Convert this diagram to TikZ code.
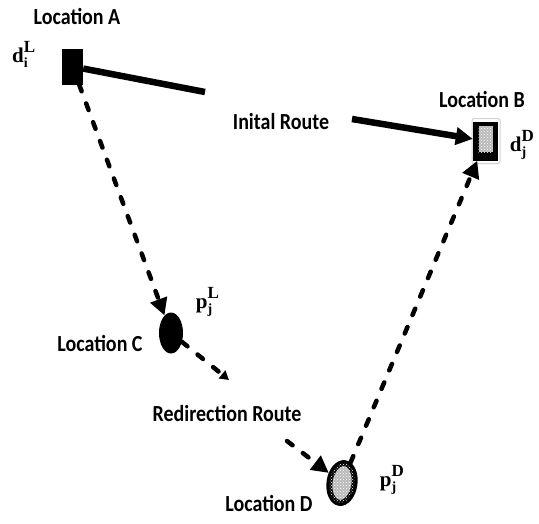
\documentclass[tikz,border=0pt]{standalone}
\usepackage{fontspec}
\setmainfont{Liberation Serif}
\newfontfamily\placefont{Carlito}
\usetikzlibrary{arrows.meta,shapes.geometric,patterns}
\newcommand\sym[3]{\textbf{#1}\makebox[0pt][l]{\raisebox{10pt}{\fontsize{17}{17}\selectfont\textbf{#3}}}\raisebox{-5pt}{\fontsize{14}{14}\selectfont\textbf{#2}}}
\newcommand\plc[1]{\scalebox{1}[1.15]{#1}}
\begin{document}
\begin{tikzpicture}[x=1pt,y=-1pt,
  place/.style={font=\placefont\bfseries\fontsize{20}{24}\selectfont, inner sep=0pt, text=black},
  symlabel/.style={font=\fontsize{21}{24}\selectfont, inner sep=0pt},
  route/.style={line width=6.5pt},
  redir/.style={line width=4.5pt, dash pattern=on 7pt off 13pt, line cap=round},
  bigtip/.style={-{Triangle[length=17pt,width=17pt]}},
  smalltip/.style={-{Triangle[length=9pt,width=10pt]}}]
\useasboundingbox (0,0) rectangle (539,523);
% location markers
\node[fill=black, minimum width=21pt, minimum height=36pt, inner sep=0pt] (A) at (72.5,66.5) {};
\node[draw=gray!35, line width=1pt, rounded corners=2pt, minimum width=28pt, minimum height=45pt, inner sep=0pt] (Bo) at (486,141) {};
\node[fill=black, minimum width=25pt, minimum height=39pt, inner sep=0pt] (B) at (485.5,141) {};
\node[fill=gray!55, postaction={pattern=crosshatch dots, pattern color=white}, minimum width=14pt, minimum height=26pt, inner sep=0pt] (Bin) at (485.5,139) {};
\node[ellipse, fill=black, minimum width=24pt, minimum height=41pt, inner sep=0pt] (C) at (171,333) {};
\node[ellipse, draw=black, line width=6pt, fill=gray!55, postaction={pattern=crosshatch dots, pattern color=white}, minimum width=25pt, minimum height=40pt, inner sep=0pt, rotate=-8] (D) at (342,483) {};
% labels
\node[place] (LA) at (77,16) {\plc{Location A}};
\node[place] (LB) at (482,99) {\plc{Location B}};
\node[place] (LC) at (100,343) {\plc{Location C}};
\node[place] (LD) at (269,503) {\plc{Location D}};
\node[place] (IR) at (281,122) {\plc{Inital Route}};
\node[place] (RR) at (227,413) {\plc{Redirection Route}};
\node[symlabel] (dA) at (20,54) {\sym{d}{i}{L}};
\node[symlabel] (dB) at (518,145) {\sym{d}{j}{D}};
\node[symlabel] (pC) at (204,302) {\sym{p}{j}{L}};
\node[symlabel] (pD) at (388,480) {\sym{p}{j}{D}};
% initial route
\coordinate (r1) at (205,92);
\coordinate (r2) at (352,119);
\draw[route] (A) -- (r1);
\draw[route, bigtip] (r2) -- (B);
% redirection route
\coordinate (c1) at (229,380);
\coordinate (c2) at (287,441);
\draw[redir, bigtip] (A) -- (C);
\draw[redir, smalltip] (C) -- (c1);
\draw[redir, bigtip] (c2) -- (D);
\draw[redir, bigtip] (D) -- (B);
\end{tikzpicture}
\end{document}
